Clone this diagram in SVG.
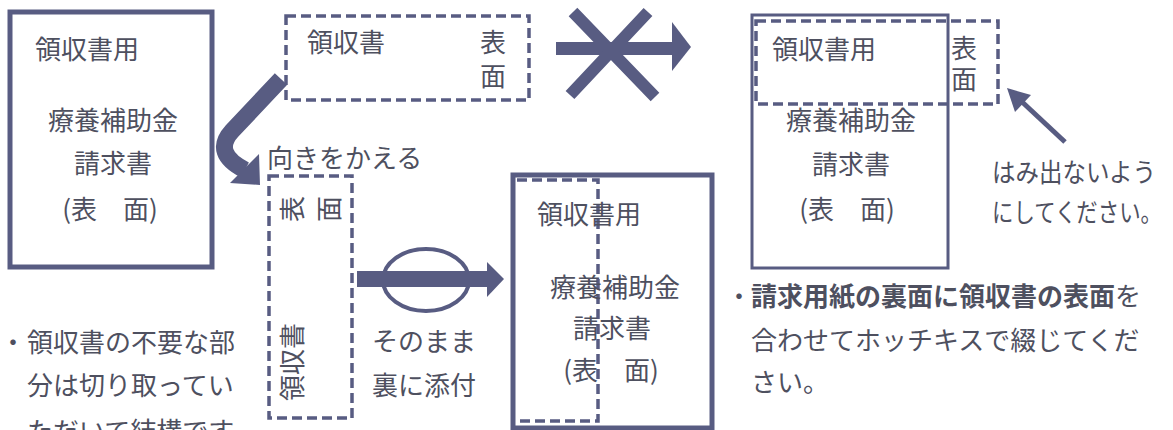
<svg xmlns="http://www.w3.org/2000/svg" width="1173" height="430" viewBox="0 0 1173 430">
<style>
.t{font-family:"Noto Sans CJK JP","Noto Sans CJK SC",sans-serif;font-size:26px;fill:#4e505f}
.b{font-weight:700}
.solid{fill:none;stroke:#585c82}
.dash{fill:none;stroke:#585c82;stroke-width:3.5;stroke-dasharray:10 5}
.ink{fill:#585c82}
.band{fill:none;stroke:#585c82}
</style>
<rect width="1173" height="430" fill="#ffffff"/>

<g id="left-form">
<rect class="solid" x="10" y="12" width="202" height="255" stroke-width="5"/>
<text class="t" x="35" y="59">領収書用</text>
<text class="t" x="113" y="130" text-anchor="middle">療養補助金</text>
<text class="t" x="113" y="173" text-anchor="middle">請求書</text>
<text class="t" x="110" y="219" text-anchor="middle">(表　面)</text>
</g>

<g id="receipt-top">
<rect class="dash" x="286" y="16" width="243" height="84"/>
<text class="t" x="307" y="52">領収書</text>
<text class="t"><tspan x="480" y="52">表</tspan><tspan x="480" y="86">面</tspan></text>
</g>

<g id="right-combo">
<rect class="solid" x="752" y="15" width="196" height="253" stroke-width="3"/>
<rect class="dash" x="756" y="21" width="242" height="83"/>
<text class="t" x="772" y="59">領収書用</text>
<text class="t" font-size="25"><tspan x="951" y="58">表</tspan><tspan x="951" y="89">面</tspan></text>
<text class="t" x="851" y="130" text-anchor="middle">療養補助金</text>
<text class="t" x="851" y="174" text-anchor="middle">請求書</text>
<text class="t" x="847" y="219" text-anchor="middle">(表　面)</text>
</g>

<g id="note-right">
<text class="t" x="992" y="182" font-size="24" textLength="164" lengthAdjust="spacingAndGlyphs">はみ出ないよう</text>
<text class="t" x="992" y="222" font-size="24" textLength="170" lengthAdjust="spacingAndGlyphs">にしてください。</text>
</g>

<g id="turn-label">
<text class="t" x="267" y="168">向きをかえる</text>
</g>

<g id="receipt-rotated">
<rect class="dash" x="269" y="176" width="83" height="242"/>
<text class="t" font-size="23" transform="translate(302,222) rotate(-90)">表</text>
<text class="t" font-size="23" transform="translate(339,222) rotate(-90)">面</text>
<text class="t" font-size="23" transform="translate(302,401) rotate(-90)">領収書</text>
</g>

<g id="attach-label">
<text class="t" x="372" y="351">そのまま</text>
<text class="t" x="372" y="395">裏に添付</text>
</g>

<g id="middle-combo">
<rect class="solid" x="513" y="175" width="199" height="253" stroke-width="5"/>
<path d="M517 180 H598 V421 H517" class="dash"/>
<text class="t" x="537" y="224">領収書用</text>
<text class="t" x="615" y="297" text-anchor="middle">療養補助金</text>
<text class="t" x="612" y="338" text-anchor="middle">請求書</text>
<text class="t" x="611" y="380" text-anchor="middle">(表　面)</text>
</g>

<g id="note-left">
<text class="t" x="13" y="352" text-anchor="middle">・</text>
<text class="t" x="27" y="352">領収書の不要な部</text>
<text class="t" x="27" y="395">分は切り取ってい</text>
<text class="t" x="27" y="441">ただいて結構です</text>
</g>

<g id="note-bottom-right">
<text class="t" x="739" y="306" text-anchor="middle">・</text>
<text class="t" x="751" y="306"><tspan class="b">請求用紙の裏面に領収書の表面</tspan>を</text>
<text class="t" x="751" y="350">合わせてホッチキスで綴じてくだ</text>
<text class="t" x="751" y="392">さい。</text>
</g>

<g id="connectors">
<!-- curved turn arrow -->
<path class="band" stroke-width="17" d="M281 79 L232 131 Q212 153 245 170"/>
<polygon class="ink" points="259,154 230,183 260,185"/>
<!-- X arrow (wrong) -->
<rect class="ink" x="556" y="42" width="118" height="13"/>
<polygon class="ink" points="672,22 691,47 672,71"/>
<path class="band" stroke-width="12" d="M573 12 L655 97 M648 12 L570 95"/>
<!-- O arrow (right) -->
<ellipse class="solid" cx="426" cy="280" rx="43" ry="31" stroke-width="4"/>
<rect class="ink" x="357" y="271" width="132" height="16"/>
<polygon class="ink" points="487,262 504,279 487,297"/>
<!-- small pointer arrow -->
<path class="band" stroke-width="5" d="M1065 142 L1020 100"/>
<polygon class="ink" points="1007,88 1031,95 1015,112"/>
</g>
</svg>
